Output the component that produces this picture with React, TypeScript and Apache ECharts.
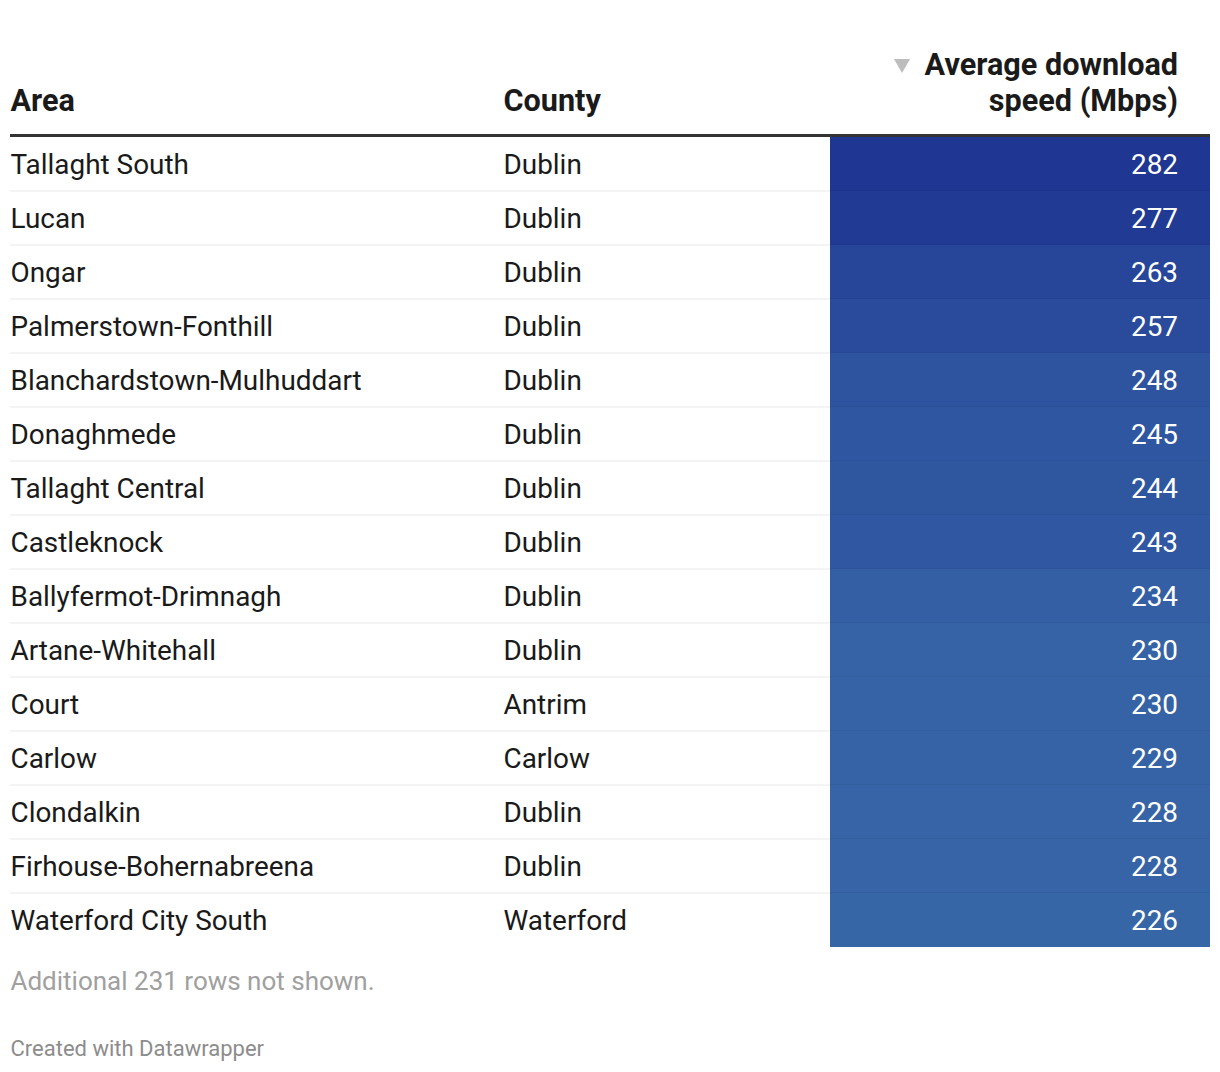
import React, { useEffect, useRef } from "react";
import * as echarts from "echarts";

const areas = [
  "Tallaght South",
  "Lucan",
  "Ongar",
  "Palmerstown-Fonthill",
  "Blanchardstown-Mulhuddart",
  "Donaghmede",
  "Tallaght Central",
  "Castleknock",
  "Ballyfermot-Drimnagh",
  "Artane-Whitehall",
  "Court",
  "Carlow",
  "Clondalkin",
  "Firhouse-Bohernabreena",
  "Waterford City South",
];
const counties = [
  "Dublin", "Dublin", "Dublin", "Dublin", "Dublin", "Dublin", "Dublin", "Dublin",
  "Dublin", "Dublin", "Antrim", "Carlow", "Dublin", "Dublin", "Waterford",
];
const speeds = [282, 277, 263, 257, 248, 245, 244, 243, 234, 230, 230, 229, 228, 228, 226];
const headers = ["Area", "County", "Average download", "speed (Mbps)"];
const footNote = "Additional 231 rows not shown.";
const credit = "Created with Datawrapper";

const FONT = "Roboto";
const BODY = `400 27.9px ${FONT}`;
const HEAD = `700 30.6px ${FONT}`;

export default function App() {
  const ref = useRef<HTMLDivElement>(null);
  useEffect(() => {
    document.body.style.margin = "0";
    const chart = echarts.init(ref.current!, null, { renderer: "svg" });
    const data = speeds.map((v, i) => [0, i, areas[i], counties[i], v]);
    chart.setOption({
      animation: false,
      backgroundColor: "#ffffff",
      grid: { left: 10, right: 10, top: 137, height: 810 },
      xAxis: { type: "value", min: 0, max: 1, show: false },
      yAxis: {
        type: "category",
        data: areas,
        inverse: true,
        show: false,
      },
      visualMap: {
        show: false,
        dimension: 4,
        min: 226,
        max: 282,
        seriesIndex: 0,
        inRange: { color: ["#3766a7", "#1f3692"] },
      },
      series: [
        {
          type: "custom",
          data,
          encode: { x: 0, y: 1 },
          renderItem: (params: any, api: any) => {
            const idx = api.value(1);
            const c = api.coord([0, idx]);
            const h = api.size([0, 1])[1];
            const top = c[1] - h / 2;
            const cy = c[1];
            const color = api.visual("color");
            const children: any[] = [
              {
                type: "rect",
                shape: { x: 830, y: top, width: 380, height: h },
                style: { fill: color },
              },
              {
                type: "text",
                x: 10.5,
                y: cy,
                style: {
                  text: areas[idx],
                  fill: "#1a1a1a",
                  font: BODY,
                  textAlign: "left",
                  textVerticalAlign: "middle",
                },
              },
              {
                type: "text",
                x: 503.5,
                y: cy,
                style: {
                  text: counties[idx],
                  fill: "#1a1a1a",
                  font: BODY,
                  textAlign: "left",
                  textVerticalAlign: "middle",
                },
              },
              {
                type: "text",
                x: 1178,
                y: cy,
                style: {
                  text: String(speeds[idx]),
                  fill: "#ffffff",
                  font: BODY,
                  textAlign: "right",
                  textVerticalAlign: "middle",
                },
              },
            ];
            if (idx < speeds.length - 1) {
              children.push({
                type: "line",
                shape: { x1: 10, y1: top + h, x2: 1210, y2: top + h },
                style: { stroke: "rgba(0,0,0,0.09)", lineWidth: 1 },
              });
            }
            return { type: "group", children };
          },
        },
      ],
      graphic: [
        {
          type: "text",
          x: 10.5,
          y: 100,
          style: { text: headers[0], fill: "#1a1a1a", font: HEAD, textVerticalAlign: "middle" },
        },
        {
          type: "text",
          x: 503.5,
          y: 100,
          style: { text: headers[1], fill: "#1a1a1a", font: HEAD, textVerticalAlign: "middle" },
        },
        {
          type: "text",
          x: 1178,
          y: 64,
          style: {
            text: headers[2],
            fill: "#1a1a1a",
            font: HEAD,
            textAlign: "right",
            textVerticalAlign: "middle",
          },
        },
        {
          type: "text",
          x: 1178,
          y: 100,
          style: {
            text: headers[3],
            fill: "#1a1a1a",
            font: HEAD,
            textAlign: "right",
            textVerticalAlign: "middle",
          },
        },
        {
          type: "polygon",
          shape: { points: [[894, 59], [910, 59], [902, 73]] },
          style: { fill: "#bdbdbd" },
        },
        {
          type: "rect",
          shape: { x: 10, y: 134, width: 1200, height: 3 },
          style: { fill: "#333333" },
        },
        {
          type: "text",
          x: 10.5,
          y: 981,
          style: { text: footNote, fill: "#a0a0a0", font: `400 26px ${FONT}`, textVerticalAlign: "middle" },
        },
        {
          type: "text",
          x: 10.5,
          y: 1048,
          style: { text: credit, fill: "#8c8c8c", font: `400 22px ${FONT}`, textVerticalAlign: "middle" },
        },
      ],
    });
    return () => chart.dispose();
  }, []);
  return <div ref={ref} style={{ width: 1220, height: 1072 }} />;
}
